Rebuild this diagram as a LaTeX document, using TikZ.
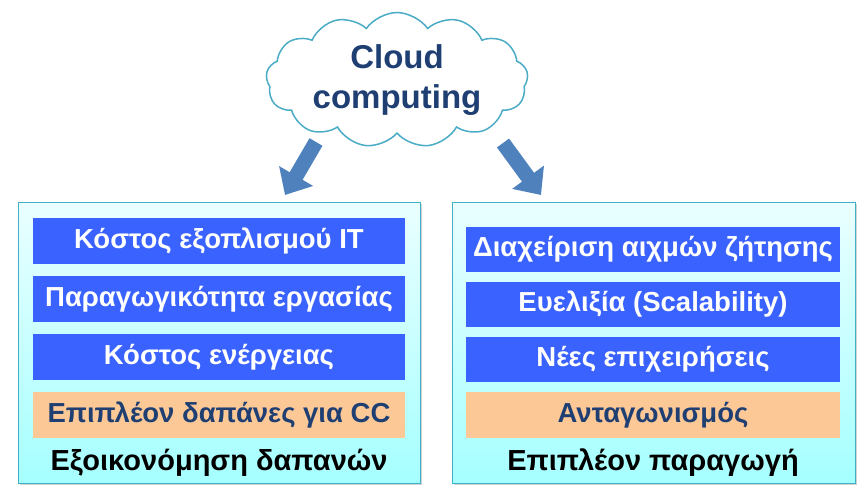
\documentclass[tikz,border=0pt]{standalone}
\usepackage{fontspec}
\setmainfont{Liberation Sans}
\usetikzlibrary{shapes.symbols,arrows.meta,shadows}
\definecolor{bluebox}{HTML}{3A62FF}
\definecolor{peach}{HTML}{FCC896}
\definecolor{navy}{HTML}{1F3F73}
\definecolor{panelline}{HTML}{3FB0C8}
\definecolor{arrowblue}{HTML}{4F81BD}
\definecolor{cloudline}{HTML}{4BACC6}
\tikzset{
 panel/.style={draw=panelline, line width=0.8pt, top color=cyan!8, bottom color=cyan!35!white, drop shadow={opacity=0.35, shadow xshift=2pt, shadow yshift=-2pt}},
 item/.style={fill=bluebox, text=white, font=\bfseries\fontsize{27.5}{30}\selectfont, minimum width=372pt, minimum height=46pt, inner sep=0pt},
 itemo/.style={item, fill=peach, text=navy},
 ritem/.style={item, minimum width=374pt, minimum height=45pt},
 ritemo/.style={itemo, minimum width=374pt},
 foot/.style={font=\bfseries\fontsize{29}{32}\selectfont, text=black},
 bigarrow/.style={arrowblue, line width=15pt, -{Triangle[length=22pt,width=38pt]}}
}
\begin{document}
\begin{tikzpicture}[x=1pt,y=-1pt]
\useasboundingbox (0,0) rectangle (864,501);
\node[panel, minimum width=402pt, minimum height=281pt, inner sep=0pt] (lp) at (219,342.5) {};
\node[panel, minimum width=403pt, minimum height=281pt, inner sep=0pt] (rp) at (653.5,342.5) {};
\node[item] (l1) at (219,240.5) {Κόστος εξοπλισμού IT};
\node[item] (l2) at (219,299) {Παραγωγικότητα εργασίας};
\node[item] (l3) at (219,357) {Κόστος ενέργειας};
\node[itemo] (l4) at (219,415) {Επιπλέον δαπάνες για CC};
\node[foot] (lf) at (219,463) {Εξοικονόμηση δαπανών};
\node[ritem] (r1) at (653,249.5) {Διαχείριση αιχμών ζήτησης};
\node[ritem] (r2) at (653,304) {Ευελιξία (Scalability)};
\node[ritem] (r3) at (653,359.5) {Νέες επιχειρήσεις};
\node[ritemo, minimum height=46pt] (r4) at (653,415) {Ανταγωνισμός};
\node[foot] (rf) at (653,463) {Επιπλέον παραγωγή};
\node[cloud, cloud puffs=13, cloud puff arc=110, aspect=2.2, draw=cloudline, line width=1.5pt, fill=white, minimum width=262pt, minimum height=118pt, inner sep=0pt, align=center, text=navy, font=\bfseries\fontsize{33}{40}\selectfont] (cl) at (397,80) {Cloud\\computing};
\coordinate (la) at (316,142);
\coordinate (lb) at (285,195);
\coordinate (ra) at (503,143);
\coordinate (rb) at (541,195);
\draw[bigarrow] (la) -- (lb);
\draw[bigarrow] (ra) -- (rb);
\end{tikzpicture}
\end{document}
